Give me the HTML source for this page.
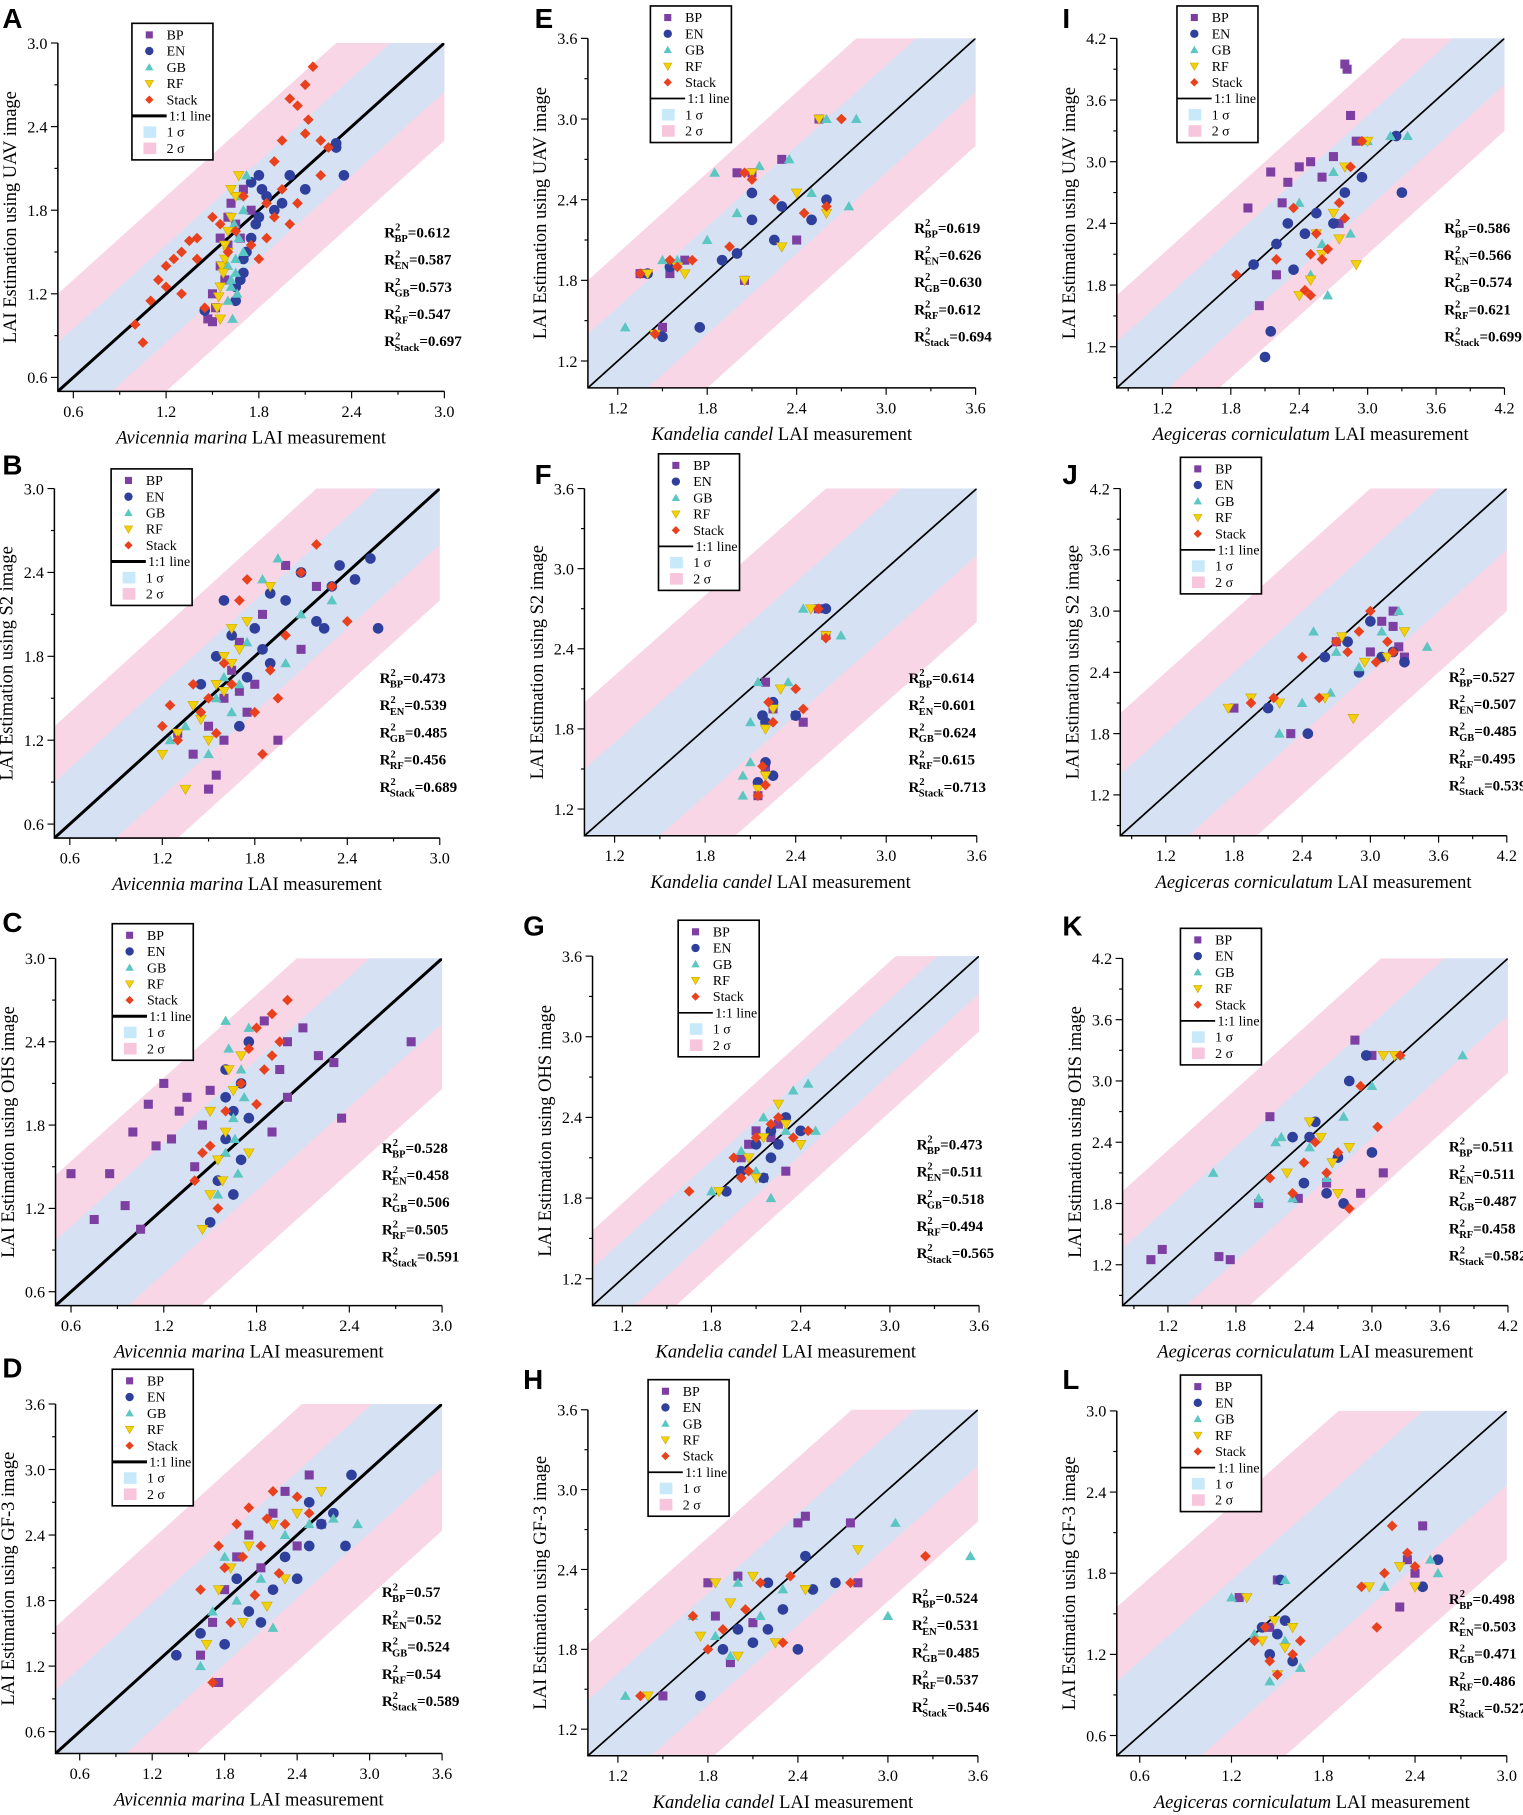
<!DOCTYPE html>
<html><head><meta charset="utf-8">
<style>
html,body{margin:0;padding:0;background:#fff;width:1523px;height:1815px;overflow:hidden;}
svg{display:block;}
text{font-family:"Liberation Serif",serif;}
.lt{font-family:"Liberation Sans",sans-serif;font-weight:bold;font-size:24px;}
</style></head>
<body>
<svg id="fig" xmlns="http://www.w3.org/2000/svg" width="1523" height="1815" viewBox="0 0 1316 1568"></svg>
<script>
// ---- data arrays ([measured, estimated]) ----
const A_BP=[[1.47,1.02],[1.5,1.2],[1.55,1.4],[1.6,1.55],[1.62,1.85],[1.65,1.7],[1.58,1.3],[1.52,1.1],[1.68,1.6],[1.7,1.95],[1.75,1.8],[1.55,1.6],[1.6,1.75],[1.5,1.0]];
const A_EN=[[1.45,1.08],[1.65,1.25],[1.7,1.45],[1.75,1.6],[1.8,1.75],[1.85,1.9],[1.9,1.8],[2.0,2.05],[2.1,1.95],[2.3,2.25],[2.3,2.28],[2.35,2.05],[1.75,2.0],[1.7,1.35],[1.65,1.15],[1.8,2.05],[1.72,1.5],[1.78,1.7],[1.68,1.3],[1.82,1.95],[1.95,1.85]];
const A_GB=[[1.63,1.02],[1.6,1.15],[1.62,1.3],[1.65,1.45],[1.67,1.6],[1.7,1.8],[1.72,2.05],[1.6,1.4],[1.66,1.2],[1.68,1.9],[1.62,1.25],[1.65,1.35],[1.7,1.5],[1.64,1.7]];
const A_RF=[[1.55,1.02],[1.53,1.1],[1.55,1.25],[1.56,1.4],[1.58,1.55],[1.6,1.65],[1.62,1.75],[1.65,1.9],[1.67,2.05],[1.57,1.35],[1.6,1.5],[1.54,1.18],[1.58,1.45],[1.62,1.95]];
const A_Stack=[[1.0,0.98],[1.05,0.85],[1.1,1.15],[1.15,1.3],[1.2,1.25],[1.25,1.45],[1.3,1.5],[1.35,1.58],[1.4,1.6],[1.3,1.2],[1.45,1.1],[1.5,1.75],[1.55,1.7],[1.6,1.5],[1.7,1.9],[1.75,1.55],[1.8,1.45],[1.85,1.85],[1.9,2.15],[1.95,2.3],[2.0,2.6],[2.05,2.55],[2.1,2.35],[2.12,2.45],[2.1,2.7],[2.15,2.83],[2.2,2.3],[2.2,2.05],[2.0,1.7],[1.95,1.95],[2.05,1.85],[2.25,2.25],[1.65,1.65],[1.2,1.4],[1.4,1.45],[1.85,1.6],[1.9,1.75]];
const B_BP=[[1.3,1.25],[1.4,1.1],[1.5,1.3],[1.55,0.95],[1.6,1.5],[1.65,1.7],[1.7,1.9],[1.75,1.4],[1.8,1.6],[1.85,2.1],[1.95,1.2],[2.0,2.45],[2.1,1.85],[2.2,2.3],[1.5,0.85],[1.6,1.2],[1.7,1.55]];
const B_EN=[[1.45,1.6],[1.55,1.8],[1.6,2.2],[1.7,1.3],[1.8,2.0],[1.9,1.75],[2.0,2.2],[2.1,2.4],[2.2,2.05],[2.3,2.3],[2.35,2.45],[2.45,2.35],[2.55,2.5],[2.6,2.0],[2.25,2.0],[1.9,2.25],[1.65,1.95],[1.75,1.65],[1.85,1.85]];
const B_GB=[[1.25,1.2],[1.35,1.3],[1.45,1.4],[1.55,1.5],[1.6,1.65],[1.7,1.6],[1.85,2.35],[1.95,2.5],[2.0,1.75],[2.1,2.1],[2.3,2.2],[1.5,1.1],[1.65,1.4],[1.75,1.9]];
const B_RF=[[1.2,1.1],[1.3,1.25],[1.4,1.45],[1.45,1.35],[1.55,1.6],[1.6,1.8],[1.65,2.0],[1.7,1.85],[1.75,2.05],[1.35,0.85],[1.5,1.2],[1.9,2.3],[1.6,1.55],[1.65,1.75]];
const B_Stack=[[1.2,1.3],[1.25,1.45],[1.3,1.2],[1.4,1.6],[1.5,1.5],[1.6,1.75],[1.7,2.2],[1.8,1.4],[1.9,1.7],[2.0,1.95],[2.1,2.4],[2.2,2.6],[2.3,2.3],[1.95,1.5],[1.85,1.1],[2.4,2.05],[1.75,2.35],[1.55,1.25],[1.45,1.4],[1.65,1.6]];
const C_BP=[[0.6,1.45],[0.75,1.12],[0.85,1.45],[0.95,1.22],[1.0,1.75],[1.05,1.05],[1.1,1.95],[1.15,1.65],[1.2,2.1],[1.25,1.7],[1.3,1.9],[1.35,2.0],[1.4,1.5],[1.85,2.55],[1.95,2.2],[2.0,2.4],[2.1,2.5],[2.2,2.3],[2.3,2.25],[2.35,1.85],[2.8,2.4],[1.9,1.75],[2.0,2.0],[1.45,1.8],[1.5,2.05]];
const C_EN=[[1.5,1.1],[1.55,1.4],[1.6,1.7],[1.65,1.9],[1.7,2.1],[1.75,2.4],[1.6,2.2],[1.7,1.55],[1.65,1.3],[1.75,1.85],[1.6,2.0]];
const C_GB=[[1.55,1.3],[1.6,1.6],[1.65,1.85],[1.7,2.2],[1.75,2.5],[1.6,2.55],[1.68,1.45],[1.72,2.0],[1.62,2.35],[1.66,1.7]];
const C_RF=[[1.45,1.05],[1.5,1.3],[1.55,1.55],[1.6,1.75],[1.65,2.05],[1.7,2.3],[1.5,1.9],[1.75,1.6],[1.58,1.4],[1.62,2.2]];
const C_Stack=[[1.4,1.4],[1.5,1.65],[1.6,1.9],[1.7,2.1],[1.75,2.35],[1.8,2.5],[1.9,2.6],[2.0,2.7],[1.85,2.2],[1.95,2.4],[1.55,1.2],[1.45,1.6],[1.8,1.95],[1.9,2.3]];
const D_BP=[[1.6,1.3],[1.7,1.6],[1.8,1.9],[1.9,2.2],[2.0,2.4],[2.1,2.1],[2.2,2.6],[2.3,2.8],[2.5,2.95],[2.6,2.5],[1.75,1.05],[2.4,2.3]];
const D_EN=[[1.4,1.3],[1.6,1.5],[1.8,1.4],[2.0,1.7],[2.2,1.9],[2.3,2.2],[2.4,2.0],[2.5,2.3],[2.6,2.5],[2.7,2.6],[2.85,2.95],[2.8,2.3],[2.1,1.6],[1.9,2.0],[2.5,2.7]];
const D_GB=[[1.6,1.2],[1.7,1.7],[1.9,1.8],[2.1,2.0],[2.3,2.4],[2.5,2.5],[2.7,2.55],[2.9,2.5],[1.8,2.2],[2.2,1.55]];
const D_RF=[[1.65,1.4],[1.75,1.9],[1.85,2.1],[2.0,2.3],[2.2,2.5],[2.4,2.6],[2.6,2.8],[2.15,1.75],[1.95,1.6],[2.3,2.0]];
const D_Stack=[[1.6,1.9],[1.7,1.05],[1.8,2.1],[1.9,2.5],[2.0,2.65],[2.1,2.3],[2.2,2.8],[2.3,2.5],[2.4,2.75],[2.5,2.6],[1.85,1.6],[2.05,1.85],[2.25,2.05],[1.75,2.3],[2.15,2.55],[1.95,2.2]];
const E_BP=[[1.5,1.45],[1.55,1.85],[1.65,1.95],[2.05,1.8],[2.1,2.6],[2.3,2.7],[2.55,3.0],[2.4,2.1],[2.0,2.6],[1.35,1.85]];
const E_EN=[[1.4,1.85],[1.55,1.9],[1.75,1.45],[1.9,1.95],[2.0,2.0],[2.1,2.25],[2.25,2.1],[2.3,2.35],[2.5,2.25],[2.6,2.4],[2.1,2.45],[1.5,1.38]];
const E_GB=[[1.25,1.45],[1.5,1.95],[1.6,1.95],[1.85,2.6],[2.0,2.3],[2.15,2.65],[2.35,2.7],[2.6,3.0],[2.8,3.0],[2.75,2.35],[2.5,2.45],[1.8,2.1]];
const E_RF=[[1.45,1.4],[1.6,1.9],[1.65,1.85],[2.05,1.8],[2.1,2.6],[2.3,2.05],[2.4,2.45],[2.55,3.0],[2.6,2.3],[1.4,1.85]];
const E_Stack=[[1.35,1.85],[1.45,1.4],[1.6,1.9],[1.7,1.95],[2.05,2.6],[2.1,2.55],[2.25,2.4],[2.45,2.3],[2.7,3.0],[2.6,2.35],[1.95,2.05],[1.55,1.95]];
const F_BP=[[2.15,1.3],[2.2,1.5],[2.25,1.95],[2.2,2.15],[2.4,1.9],[2.45,1.85],[2.55,2.7],[2.6,2.5]];
const F_EN=[[2.15,1.4],[2.2,1.55],[2.18,1.9],[2.25,2.0],[2.2,1.85],[2.4,1.9],[2.6,2.7],[2.25,1.45]];
const F_GB=[[2.05,1.3],[2.1,1.55],[2.1,1.85],[2.15,2.15],[2.35,2.15],[2.45,2.7],[2.7,2.5],[2.05,1.45]];
const F_RF=[[2.15,1.35],[2.2,1.45],[2.2,1.8],[2.3,2.1],[2.5,2.7],[2.6,2.5],[2.25,1.95]];
const F_Stack=[[2.15,1.3],[2.2,1.38],[2.18,1.52],[2.25,1.85],[2.22,2.0],[2.4,2.1],[2.45,1.95],[2.6,2.48],[2.55,2.7]];
const G_BP=[[2.0,2.1],[2.05,2.2],[2.1,2.3],[2.2,2.25],[2.25,2.35],[2.3,2.0],[2.15,1.95]];
const G_EN=[[1.9,1.85],[2.0,2.0],[2.1,2.2],[2.15,1.95],[2.2,2.3],[2.25,2.2],[2.3,2.4],[2.4,2.3],[2.2,2.1]];
const G_GB=[[1.8,1.85],[2.0,2.15],[2.1,2.0],[2.2,1.8],[2.3,2.3],[2.35,2.6],[2.45,2.65],[2.5,2.3],[2.15,2.4]];
const G_RF=[[1.85,1.85],[2.05,2.1],[2.15,2.25],[2.25,2.5],[2.3,2.35],[2.4,2.2],[2.1,1.95]];
const G_Stack=[[1.65,1.85],[1.95,2.1],[2.05,2.0],[2.1,2.25],[2.2,2.35],[2.25,2.4],[2.35,2.25],[2.45,2.3],[2.0,1.95]];
const H_BP=[[1.5,1.45],[1.8,2.3],[1.95,1.7],[2.0,2.35],[2.1,2.0],[2.4,2.75],[2.45,2.8],[2.75,2.75],[2.8,2.3],[1.85,2.05]];
const H_EN=[[1.75,1.45],[1.9,1.8],[2.0,1.95],[2.1,1.85],[2.2,1.95],[2.3,2.1],[2.45,2.5],[2.5,2.25],[2.65,2.3],[2.4,1.8],[2.2,2.3]];
const H_GB=[[1.25,1.45],[1.7,2.05],[1.85,1.9],[2.0,2.3],[2.15,2.05],[2.3,2.25],[3.05,2.75],[3.0,2.05],[3.55,2.5],[1.95,1.75]];
const H_RF=[[1.4,1.45],[1.75,1.9],[1.85,2.3],[2.0,1.75],[2.1,2.35],[2.25,1.85],[2.45,2.25],[2.8,2.55],[1.95,2.15]];
const H_Stack=[[1.35,1.45],[1.7,2.05],[1.9,1.95],[2.05,2.1],[2.15,2.3],[2.3,1.85],[2.35,2.35],[2.75,2.3],[3.25,2.5],[1.8,1.8]];
const I_BP=[[1.95,2.55],[2.05,1.6],[2.15,2.9],[2.25,2.6],[2.3,2.8],[2.4,2.95],[2.5,3.0],[2.6,2.85],[2.7,3.05],[2.75,2.4],[2.8,3.95],[2.82,3.9],[2.85,3.45],[2.9,3.2],[2.2,1.9]];
const I_EN=[[2.1,1.1],[2.15,1.35],[2.2,2.2],[2.3,2.4],[2.35,1.95],[2.45,2.3],[2.55,2.5],[2.7,2.4],[2.8,2.7],[2.95,2.85],[3.25,3.25],[3.3,2.7],[2.0,2.0]];
const I_GB=[[2.4,2.6],[2.5,1.9],[2.6,2.2],[2.7,2.9],[2.85,2.3],[3.0,3.2],[3.2,3.25],[3.35,3.25],[2.65,1.7]];
const I_RF=[[2.4,1.7],[2.5,1.85],[2.6,2.1],[2.7,2.5],[2.8,2.95],[2.9,2.0],[3.0,3.2],[2.55,2.3],[2.75,2.25]];
const I_Stack=[[1.85,1.9],[2.2,2.05],[2.35,2.55],[2.45,1.75],[2.5,2.1],[2.55,2.3],[2.6,2.05],[2.65,2.15],[2.75,2.6],[2.8,2.45],[2.85,2.95],[2.95,3.2],[2.5,1.7]];
const J_BP=[[1.8,2.05],[2.3,1.8],[2.7,2.7],[3.0,2.6],[3.1,2.9],[3.2,3.0],[3.2,2.85],[3.25,2.65],[3.3,2.55]];
const J_EN=[[2.1,2.05],[2.45,1.8],[2.6,2.55],[2.8,2.7],[2.9,2.4],[3.0,2.9],[3.1,2.55],[3.2,2.6],[3.3,2.5]];
const J_GB=[[2.2,1.8],[2.5,2.8],[2.7,2.6],[2.9,2.45],[3.1,2.8],[3.25,3.0],[3.5,2.65],[2.4,2.1],[2.65,2.2]];
const J_RF=[[1.75,2.05],[1.95,2.15],[2.2,2.1],[2.6,2.15],[2.85,1.95],[2.95,2.5],[3.15,2.55],[3.3,2.8],[2.75,2.75]];
const J_Stack=[[1.95,2.1],[2.15,2.15],[2.4,2.55],[2.55,2.15],[2.7,2.7],[2.8,2.6],[2.9,2.8],[3.0,3.0],[3.05,2.5],[3.15,2.7],[3.2,2.6]];
const K_BP=[[1.05,1.25],[1.15,1.35],[1.65,1.28],[1.75,1.25],[2.1,2.65],[2.35,1.85],[2.6,2.0],[2.85,3.4],[2.9,1.9],[3.0,3.25],[3.1,2.1],[2.0,1.8]];
const K_EN=[[2.3,2.45],[2.4,2.0],[2.5,2.6],[2.6,1.9],[2.7,2.25],[2.8,3.0],[2.95,3.25],[3.0,2.3],[2.45,2.45],[2.75,1.8]];
const K_GB=[[1.6,2.1],[2.0,1.85],[2.15,2.4],[2.3,1.85],[2.45,2.35],[2.6,2.05],[2.75,2.65],[3.0,2.95],[3.25,3.25],[3.8,3.25],[2.2,2.45]];
const K_RF=[[2.25,2.1],[2.45,2.6],[2.55,2.45],[2.7,1.9],[2.8,2.35],[3.1,3.25],[3.2,3.25],[2.65,2.2]];
const K_Stack=[[2.1,2.05],[2.3,1.9],[2.5,2.4],[2.6,2.1],[2.7,2.3],[2.8,1.75],[2.9,2.95],[3.05,2.55],[3.25,3.25],[2.4,2.2]];
const L_BP=[[1.25,1.62],[1.5,1.75],[2.3,1.55],[2.4,1.8],[2.45,2.15],[1.45,1.4],[2.35,1.9]];
const L_EN=[[1.4,1.4],[1.45,1.2],[1.5,1.35],[1.55,1.45],[1.6,1.15],[2.55,1.9],[2.45,1.7],[1.52,1.75]];
const L_GB=[[1.2,1.62],[1.35,1.35],[1.45,1.0],[1.55,1.3],[1.65,1.1],[2.5,1.9],[2.55,1.8],[2.2,1.7],[1.55,1.75]];
const L_RF=[[1.3,1.62],[1.4,1.3],[1.5,1.05],[1.55,1.25],[1.6,1.4],[2.1,1.7],[2.3,1.85],[2.4,1.7],[1.48,1.45]];
const L_Stack=[[1.35,1.3],[1.45,1.15],[1.5,1.05],[1.6,1.2],[1.65,1.3],[2.05,1.7],[2.15,1.4],[2.2,1.8],[2.25,2.15],[2.35,1.95],[2.4,1.85],[1.42,1.4]];

const R2_A=['0.612','0.587','0.573','0.547','0.697'];
const R2_B=['0.473','0.539','0.485','0.456','0.689'];
const R2_C=['0.528','0.458','0.506','0.505','0.591'];
const R2_D=['0.57','0.52','0.524','0.54','0.589'];
const R2_E=['0.619','0.626','0.630','0.612','0.694'];
const R2_F=['0.614','0.601','0.624','0.615','0.713'];
const R2_G=['0.473','0.511','0.518','0.494','0.565'];
const R2_H=['0.524','0.531','0.485','0.537','0.546'];
const R2_I=['0.586','0.566','0.574','0.621','0.699'];
const R2_J=['0.527','0.507','0.485','0.495','0.539'];
const R2_K=['0.511','0.511','0.487','0.458','0.582'];
const R2_L=['0.498','0.503','0.471','0.486','0.527'];

const TICKS_30=[0.6,1.2,1.8,2.4,3.0];
const TICKS_36=[0.6,1.2,1.8,2.4,3.0,3.6];
const TICKS_K=[1.2,1.8,2.4,3.0,3.6];
const TICKS_AC=[1.2,1.8,2.4,3.0,3.6,4.2];
const SERIES=['BP','EN','GB','RF','Stack'];
const SIGMA=[0.35,0.4,0.47,0.58,0.4,0.5,0.28,0.42,0.45,0.6,0.56,0.55];

const NS='http://www.w3.org/2000/svg';
const svg=document.getElementById('fig');
function mk(tag,attrs,parent){const e=document.createElementNS(NS,tag);for(const k in attrs)e.setAttribute(k,attrs[k]);(parent||svg).appendChild(e);return e;}

const COL={BP:'#7e3fa3',EN:'#2f3f9c',GB:'#5cc6c2',RF:'#f2d10a',Stack:'#e9411d'};
function marker(g,s,cx,cy,r){
  let e;
  if(s==='BP') e=mk('rect',{x:cx-r*0.85,y:cy-r*0.85,width:r*1.7,height:r*1.7,fill:COL.BP},g);
  else if(s==='EN') e=mk('circle',{cx:cx,cy:cy,r:r,fill:COL.EN},g);
  else if(s==='GB') e=mk('polygon',{points:`${cx},${cy-r} ${cx+r},${cy+r*0.75} ${cx-r},${cy+r*0.75}`,fill:COL.GB},g);
  else if(s==='RF') e=mk('polygon',{points:`${cx},${cy+r} ${cx+r},${cy-r*0.75} ${cx-r},${cy-r*0.75}`,fill:COL.RF,stroke:'#c9a800','stroke-width':0.5},g);
  else e=mk('polygon',{points:`${cx},${cy-r} ${cx+r},${cy} ${cx},${cy+r} ${cx-r},${cy}`,fill:COL.Stack},g);
  return e;
}

const P=[
 {id:'A',box:[50,37,384,338],lo:0.5,hi:3.0,ticks:TICKS_30,ylab:'UAV',sp:'Avicennia marina',leg:[114,20],r2p:[332,205],lt:[2,24],lw:2.6,data:[A_BP,A_EN,A_GB,A_RF,A_Stack],r2:R2_A},
 {id:'B',box:[47,422,380,724],lo:0.5,hi:3.0,ticks:TICKS_30,ylab:'S2',sp:'Avicennia marina',leg:[96,405],r2p:[328,590],lt:[2,410],lw:2.6,data:[B_BP,B_EN,B_GB,B_RF,B_Stack],r2:R2_B},
 {id:'C',box:[48,828,382,1128],lo:0.5,hi:3.0,ticks:TICKS_30,ylab:'OHS',sp:'Avicennia marina',leg:[97,798],r2p:[330,996],lt:[2,805],lw:2.6,data:[C_BP,C_EN,C_GB,C_RF,C_Stack],r2:R2_C},
 {id:'D',box:[48,1213,382,1515],lo:0.4,hi:3.6,ticks:TICKS_36,ylab:'GF-3',sp:'Avicennia marina',leg:[97,1183],r2p:[330,1380],lt:[2,1190],lw:2.6,data:[D_BP,D_EN,D_GB,D_RF,D_Stack],r2:R2_D},
 {id:'E',box:[508,33,843,335],lo:1.0,hi:3.6,ticks:TICKS_K,ylab:'UAV',sp:'Kandelia candel',leg:[562,5],r2p:[790,201],lt:[462,24],lw:1.5,data:[E_BP,E_EN,E_GB,E_RF,E_Stack],r2:R2_E},
 {id:'F',box:[505,422,844,722],lo:1.0,hi:3.6,ticks:TICKS_K,ylab:'S2',sp:'Kandelia candel',leg:[569,392],r2p:[785,590],lt:[462,418],lw:1.5,data:[F_BP,F_EN,F_GB,F_RF,F_Stack],r2:R2_F},
 {id:'G',box:[512,826,846,1128],lo:1.0,hi:3.6,ticks:TICKS_K,ylab:'OHS',sp:'Kandelia candel',leg:[586,795],r2p:[792,993],lt:[452,808],lw:1.5,data:[G_BP,G_EN,G_GB,G_RF,G_Stack],r2:R2_G},
 {id:'H',box:[508,1218,845,1517],lo:1.0,hi:3.6,ticks:TICKS_K,ylab:'GF-3',sp:'Kandelia candel',leg:[560,1192],r2p:[788,1385],lt:[452,1200],lw:1.5,data:[H_BP,H_EN,H_GB,H_RF,H_Stack],r2:R2_H},
 {id:'I',box:[965,33,1300,335],lo:0.8,hi:4.2,ticks:TICKS_AC,ylab:'UAV',sp:'Aegiceras corniculatum',leg:[1017,5],r2p:[1248,201],lt:[918,24],lw:1.5,data:[I_BP,I_EN,I_GB,I_RF,I_Stack],r2:R2_I},
 {id:'J',box:[968,422,1302,722],lo:0.8,hi:4.2,ticks:TICKS_AC,ylab:'S2',sp:'Aegiceras corniculatum',leg:[1020,395],r2p:[1252,589],lt:[918,418],lw:1.5,data:[J_BP,J_EN,J_GB,J_RF,J_Stack],r2:R2_J},
 {id:'K',box:[970,828,1303,1128],lo:0.8,hi:4.2,ticks:TICKS_AC,ylab:'OHS',sp:'Aegiceras corniculatum',leg:[1020,802],r2p:[1252,995],lt:[918,808],lw:1.5,data:[K_BP,K_EN,K_GB,K_RF,K_Stack],r2:R2_K},
 {id:'L',box:[965,1219,1302,1517],lo:0.45,hi:3.0,ticks:TICKS_30,ylab:'GF-3',sp:'Aegiceras corniculatum',leg:[1020,1188],r2p:[1252,1386],lt:[918,1200],lw:1.5,data:[L_BP,L_EN,L_GB,L_RF,L_Stack],r2:R2_L}
];

P.forEach((p,pi)=>{
  const [x0,y0,x1,y1]=p.box;
  const sx=v=>x0+(v-p.lo)/(p.hi-p.lo)*(x1-x0);
  const sy=v=>y1-(v-p.lo)/(p.hi-p.lo)*(y1-y0);
  const g=mk('g',{});
  
  
  const clip=mk('clipPath',{id:'c'+p.id},g);
  mk('rect',{x:x0,y:y0,width:x1-x0,height:y1-y0},clip);
  const bg=mk('g',{'clip-path':`url(#c${p.id})`},g);
  const s=SIGMA[pi];
  const band=(k,fill,name)=>{
    const a=p.lo-1,b=p.hi+1;
    const e=mk('polygon',{points:`${sx(a)},${sy(a+k)} ${sx(b)},${sy(b+k)} ${sx(b)},${sy(b-k)} ${sx(a)},${sy(a-k)}`,fill:fill},bg);
    
    
  };
  band(2*s,'#f8d6e5','band-2-sigma');
  band(s,'#d6e2f3','band-1-sigma');
  const l=mk('line',{x1:sx(p.lo),y1:sy(p.lo),x2:sx(p.hi),y2:sy(p.hi),stroke:'#000','stroke-width':p.lw},bg);
  
  
  SERIES.forEach((sn,si)=>{
    const sg=mk('g',{},bg);
    
    
    p.data[si].forEach(d=>{
      const m=marker(sg,sn,sx(d[0]),sy(d[1]),4.6);
      
      
    });
  });
  const ax=mk('path',{d:`M${x0},${y0}V${y1}H${x1}`,fill:'none',stroke:'#000','stroke-width':1.3},g);
  
  
  const step=p.ticks[1]-p.ticks[0];
  for(let v=p.ticks[0]-step/2;v<=p.hi+1e-6;v+=step/2){
    if(v<p.lo-1e-6) continue;
    const major=p.ticks.some(t=>Math.abs(t-v)<1e-6);
    const len=major?6:3;
    mk('line',{x1:sx(v),y1:y1,x2:sx(v),y2:y1+len,stroke:'#000','stroke-width':1},g);
    mk('line',{x1:x0,y1:sy(v),x2:x0-len,y2:sy(v),stroke:'#000','stroke-width':1},g);
  }
  p.ticks.forEach(t=>{
    const tx=mk('text',{x:sx(t),y:y1+22,'text-anchor':'middle','font-size':14},g);
    tx.textContent=t.toFixed(1);
    
    
    const ty=mk('text',{x:x0-9,y:sy(t)+5,'text-anchor':'end','font-size':14},g);
    ty.textContent=t.toFixed(1);
    
    
  });
  const cxm=(x0+x1)/2, cym=(y0+y1)/2;
  const xt=mk('text',{x:cxm,y:y1+45,'text-anchor':'middle','font-size':16},g);
  xt.innerHTML=`<tspan font-style="italic">${p.sp}</tspan> LAI measurement`;
  
  
  const yx=x0-36;
  const yt=mk('text',{x:yx,y:cym,'text-anchor':'middle','font-size':16,transform:`rotate(-90 ${yx} ${cym})`},g);
  yt.textContent='LAI Estimation using '+p.ylab+' image';
  
  
  const lt=mk('text',{x:p.lt[0],y:p.lt[1],class:'lt'},g);
  lt.textContent=p.id;
  
  
  const lg=mk('g',{},g);
  
  
  const [lx,ly]=p.leg;
  mk('rect',{x:lx,y:ly,width:70,height:118,fill:'#fff',stroke:'#000','stroke-width':1.4},lg);
  SERIES.forEach((sn,i)=>{
    const yy=ly+10+i*14;
    marker(lg,sn,lx+15,yy,3.6);
    const t=mk('text',{x:lx+30,y:yy+4,'font-size':12},lg);
    t.textContent=sn;
    
    
  });
  let yy=ly+10+5*14;
  mk('line',{x1:lx,y1:yy,x2:lx+30,y2:yy,stroke:'#000','stroke-width':p.lw},lg);
  let t=mk('text',{x:lx+32,y:yy+4,'font-size':12},lg); t.textContent='1:1 line';
  yy+=14; mk('rect',{x:lx+10,y:yy-5,width:11,height:10,fill:'#c8e9f9'},lg);
  t=mk('text',{x:lx+30,y:yy+4,'font-size':12},lg); t.textContent='1 σ';
  yy+=14; mk('rect',{x:lx+10,y:yy-5,width:11,height:10,fill:'#f7c5dc'},lg);
  t=mk('text',{x:lx+30,y:yy+4,'font-size':12},lg); t.textContent='2 σ';
  SERIES.forEach((sn,i)=>{
    const [rx,ry]=p.r2p;
    const r=mk('text',{x:rx,y:ry+i*23.5,'font-size':13,'font-weight':'bold'},g);
    r.innerHTML=`R<tspan font-size="9" dy="-6">2</tspan><tspan font-size="9" dx="-5" dy="10">${sn}</tspan><tspan dy="-4">=${p.r2[i]}</tspan>`;
    
    
  });
});
</script>
</body></html>
